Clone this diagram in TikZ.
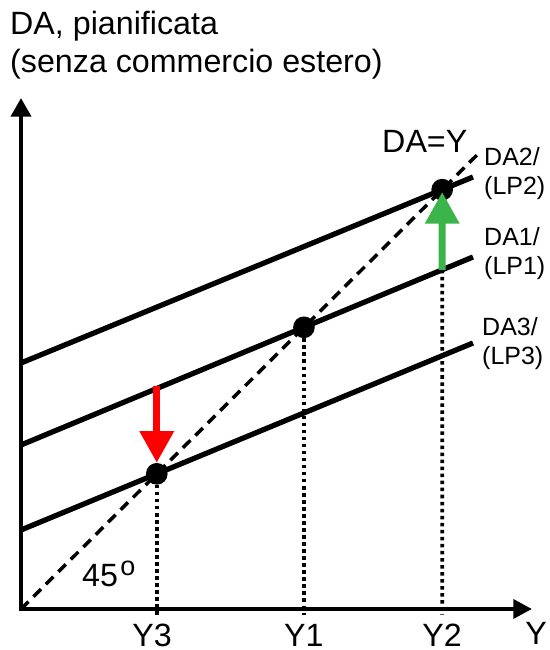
\documentclass[tikz,border=0pt]{standalone}
\usepackage{fontspec}
\setmainfont{Liberation Sans}
\usetikzlibrary{positioning}
\usetikzlibrary{arrows.meta}
\definecolor{upgreen}{RGB}{59,181,74}
\definecolor{downred}{RGB}{255,0,0}

\begin{document}
\begin{tikzpicture}[x=0.03cm,y=0.03cm,
  axisline/.style={line width=3.7pt,line join=miter,{Triangle[length=16pt,width=17pt]}-{Triangle[length=16pt,width=16pt]}},
  dacurve/.style={line width=4.5pt},
  diag/.style={line width=3pt,dash pattern=on 9pt off 6pt},
  guide/.style={line width=3.3pt,dash pattern=on 3pt off 3pt},
  dot/.style={circle,fill=black,inner sep=0pt,minimum size=0.65cm},
  shiftarrow/.style={line width=6pt,-{Triangle[length=27pt,width=28pt]}},
  lbl/.style={inner sep=0pt,font=\fontsize{27.5}{31}\selectfont},
  curvelbl/.style={inner sep=0pt,align=left,anchor=north west,font=\fontsize{21.3}{24.7}\selectfont}]
\useasboundingbox (0,0) rectangle (549,650);
% axes
\coordinate (O) at (21,41);
\coordinate (ytop) at (21,552);
\coordinate (xend) at (532,41);
\coordinate (base) at (0,35);
\draw[axisline] (ytop) -- (O) -- (xend);
% DA lines and 45 degree line
\coordinate (da2a) at (21,287);
\coordinate (da2b) at (473,473);
\coordinate (da1a) at (21,205);
\coordinate (da1b) at (473,393);
\coordinate (da3a) at (21,120);
\coordinate (da3b) at (473,307);
\coordinate (dend) at (477,495);
\draw[dacurve] (da2a) -- (da2b);
\draw[dacurve] (da1a) -- (da1b);
\draw[dacurve] (da3a) -- (da3b);
\draw[diag] (O) -- (dend);
% equilibria
\node[dot] (E3) at (intersection of da3a--da3b and O--dend) {};
\node[dot] (E1) at (intersection of da1a--da1b and O--dend) {};
\node[dot] (E2) at (intersection of da2a--da2b and O--dend) {};
\coordinate (y3) at (E3 |- base);
\coordinate (y1) at (E1 |- base);
\coordinate (y2) at (E2 |- base);
\coordinate (g0) at (intersection of da1a--da1b and E2--y2);
\draw[guide] (E3) -- (y3);
\draw[guide] (E1) -- (y1);
\draw[guide] (g0) -- (y2);
% shifts
\draw[shiftarrow,upgreen] (g0) -- ([yshift=-2pt]E2.center);
\draw[shiftarrow,downred] ([yshift=2.3cm]E3.north) -- (E3.north);
% labels
\node[lbl,below=0.27cm of y3,xshift=-4pt] (lY3) {Y3};
\node[lbl,below=0.27cm of y1] (lY1) {Y1};
\node[lbl,below=0.27cm of y2] (lY2) {Y2};
\node[lbl,anchor=north] (lY) at (536,28) {Y};
\node[lbl,anchor=base west] (title) at (10,615) {DA, pianificata};
\node[lbl,anchor=base west] (subtitle) at (10,577) {(senza commercio estero)};
\node[lbl,anchor=base west] (eqlbl) at (382,497) {DA=Y};
\node[curvelbl] (lda2) at (484,503) {DA2/\\(LP2)};
\node[curvelbl] (lda1) at (484,423) {DA1/\\(LP1)};
\node[curvelbl] (lda3) at (482,333) {DA3/\\(LP3)};
\node[lbl,anchor=base west] (angle) at (82,63) {45\kern2pt\raisebox{9.4pt}{\fontsize{23}{23}\selectfont o}};
\end{tikzpicture}
\end{document}
